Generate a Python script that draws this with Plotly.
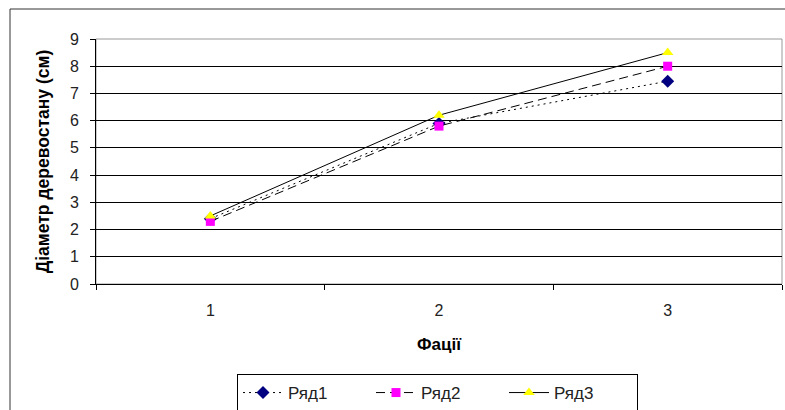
import plotly.graph_objects as go

categories = ["1", "2", "3"]
series_names = ["Ряд1", "Ряд2", "Ряд3"]
row1 = [2.4, 5.9, 7.45]
row2 = [2.3, 5.8, 8.0]
row3 = [2.5, 6.2, 8.5]
y_ticks = list(range(0, 10))

FONT = "Liberation Sans, Arial, sans-serif"

fig = go.Figure()
styles = [
    dict(dash="2px,4px", symbol="diamond", color="#000080", size=10),
    dict(dash="9px,5px", symbol="square", color="#FF00FF", size=9),
    dict(dash="solid", symbol="triangle-up", color="#FFFF00", size=10),
]
for name, vals, st in zip(series_names, [row1, row2, row3], styles):
    fig.add_trace(go.Scatter(
        x=categories, y=vals, name=name, mode="lines+markers",
        line=dict(color="black", width=1, dash=st["dash"]),
        marker=dict(symbol=st["symbol"], color=st["color"], size=st["size"],
                    line=dict(width=0)),
    ))

W, H = 785, 410
L, R, T, B = 96, 3, 39, 126
pw, ph = W - L - R, H - T - B

def px_x(x):
    return (x - L) / pw

def px_y(y):
    return (H - B - y) / ph

# outer chart frame
fig.add_shape(type="rect", xref="paper", yref="paper",
              x0=px_x(10), x1=px_x(800), y0=px_y(9), y1=px_y(430),
              line=dict(color="#333333", width=1), layer="below")
# plot area border (gray)
fig.add_shape(type="rect", xref="paper", yref="paper",
              x0=0, x1=1, y0=0, y1=1,
              line=dict(color="#999999", width=1), layer="below")

fig.update_layout(
    width=W, height=H,
    margin=dict(l=L, r=R, t=T, b=B, pad=0, autoexpand=False),
    paper_bgcolor="white", plot_bgcolor="white",
    font=dict(family=FONT, size=16, color="#222222"),
    showlegend=True,
    legend=dict(orientation="h", x=px_x(237), xanchor="left",
                y=px_y(374), yanchor="top",
                bordercolor="black", borderwidth=1,
                font=dict(family=FONT, size=17, color="#222222"),
                entrywidth=78, entrywidthmode="pixels",
                itemwidth=40, tracegroupgap=0),
    xaxis=dict(type="category", range=[-0.5, 2.5], automargin=False,
               tickson="boundaries", ticks="outside", ticklen=5,
               tickcolor="black", showline=True, linecolor="black",
               showgrid=False, ticklabelstandoff=12,
               tickfont=dict(size=16),
               title=dict(text="<b>Фації</b>", standoff=19,
                          font=dict(family=FONT, size=17, color="black"))),
    yaxis=dict(range=[0, 9], tickvals=y_ticks, ticks="outside", ticklen=5,
               tickcolor="black", showline=True, linecolor="black",
               showgrid=True, gridcolor="black", gridwidth=1,
               zeroline=False, ticklabelstandoff=8, automargin=False,
               tickfont=dict(size=16),
               title=dict(text="<b>Діаметр деревостану (см)</b>", standoff=15,
                          font=dict(family=FONT, size=17.5, color="black"))),
)

fig.write_html("out.html",
               config={"displayModeBar": False},
               post_script="document.body.style.margin='0px';"
                           "document.body.style.overflow='hidden';")
